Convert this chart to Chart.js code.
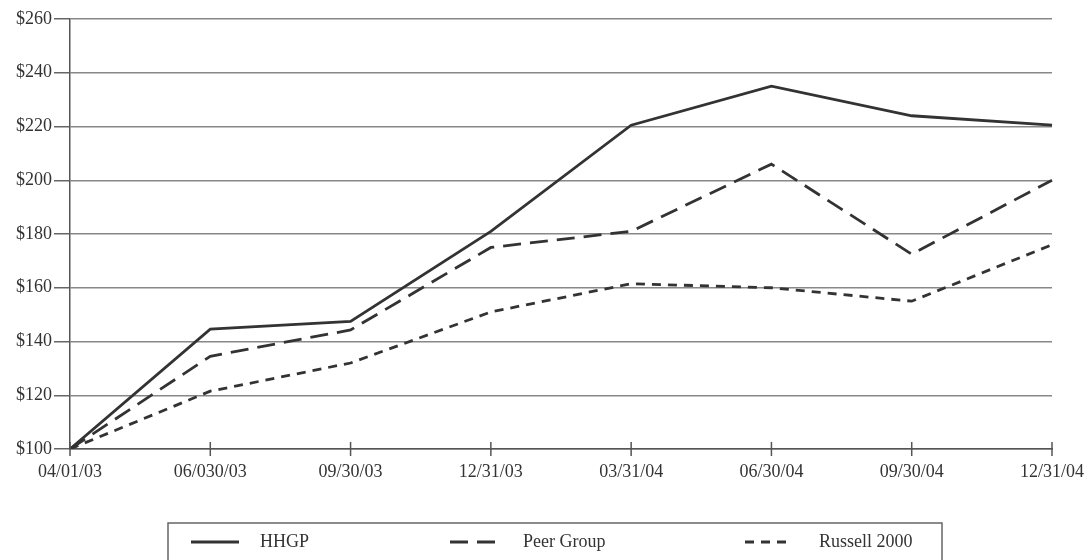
<!DOCTYPE html>
<html>
<head>
<meta charset="utf-8">
<script src="https://cdn.jsdelivr.net/npm/chart.js@4/dist/chart.umd.min.js"></script>
<style>
  html, body { margin: 0; padding: 0; background: #fff; }
  #wrap { width: 1084px; height: 560px; position: relative; }
</style>
</head>
<body>
<div id="wrap"><canvas id="myChart" width="1084" height="560"></canvas></div>
<script>
const dates = ["04/01/03", "06/030/03", "09/30/03", "12/31/03", "03/31/04", "06/30/04", "09/30/04", "12/31/04"];
const hhgp = [100, 144.6, 147.5, 181, 220.5, 235, 224, 220.5];
const peerGroup = [100, 134.5, 144.3, 175, 181, 206, 172.5, 200];
const russell2000 = [100, 121.5, 132, 151, 161.5, 160, 155, 176];
const seriesNames = ["HHGP", "Peer Group", "Russell 2000"];

const FONT = "'Liberation Serif', 'Times New Roman', serif";
const INK = "#333";

// ticks crossing the x axis and the boxed legend at the bottom
const extras = {
  id: "extras",
  afterDraw(chart) {
    const ctx = chart.ctx;
    const x = chart.scales.x;
    const y0 = chart.chartArea.bottom;
    ctx.save();
    ctx.strokeStyle = "#555";
    ctx.lineWidth = 1.5;
    x.ticks.forEach((t, i) => {
      const px = x.getPixelForTick(i);
      ctx.beginPath();
      ctx.moveTo(px, y0 - 7);
      ctx.lineTo(px, y0 + 7);
      ctx.stroke();
    });

    // legend box
    ctx.strokeStyle = "#666";
    ctx.lineWidth = 1.5;
    ctx.strokeRect(168, 523, 774, 60);
    const itemX = [191, 450, 745];
    const itemW = [48, 45, 41];
    const textX = [260, 523, 819];
    ctx.font = "18px " + FONT;
    ctx.fillStyle = INK;
    ctx.textBaseline = "middle";
    chart.data.datasets.forEach((ds, i) => {
      ctx.beginPath();
      ctx.setLineDash(ds.borderDash || []);
      ctx.strokeStyle = ds.borderColor;
      ctx.lineWidth = ds.borderWidth;
      ctx.moveTo(itemX[i], 542);
      ctx.lineTo(itemX[i] + itemW[i], 542);
      ctx.stroke();
      ctx.setLineDash([]);
      ctx.fillText(ds.label, textX[i], 542);
    });
    ctx.restore();
  },
};

const ctx = document.getElementById("myChart").getContext("2d");
new Chart(ctx, {
  type: "line",
  data: {
    labels: dates,
    datasets: [
      { label: seriesNames[0], data: hhgp, borderColor: "#333", borderWidth: 2.8, borderDash: [] },
      { label: seriesNames[1], data: peerGroup, borderColor: "#333", borderWidth: 2.8, borderDash: [18, 9] },
      { label: seriesNames[2], data: russell2000, borderColor: "#333", borderWidth: 2.8, borderDash: [9, 7] },
    ],
  },
  options: {
    responsive: false,
    animation: false,
    elements: { point: { radius: 0 }, line: { tension: 0, fill: false } },
    layout: { padding: { top: 19, right: 0, bottom: 0, left: 0 } },
    plugins: { legend: { display: false }, tooltip: { enabled: false } },
    scales: {
      x: {
        offset: false,
        grid: { display: false, drawTicks: false },
        border: { color: "#555", width: 1.5 },
        ticks: { color: INK, font: { family: FONT, size: 18 }, padding: 12, maxRotation: 0, autoSkip: false },
        afterFit(scale) {
          scale.height = 111;
          scale.paddingRight = 32;
          scale.paddingLeft = 0;
        },
      },
      y: {
        min: 100,
        max: 260,
        ticks: {
          stepSize: 20,
          color: INK,
          padding: 2,
          font: { family: FONT, size: 18 },
          callback: (v) => "$" + v,
        },
        grid: { color: "#888", lineWidth: 1.5, tickLength: 16, tickColor: "#666" },
        border: { color: "#555", width: 1.5 },
        afterFit(scale) { scale.width = 70; },
      },
    },
  },
  plugins: [extras],
});
</script>
</body>
</html>
